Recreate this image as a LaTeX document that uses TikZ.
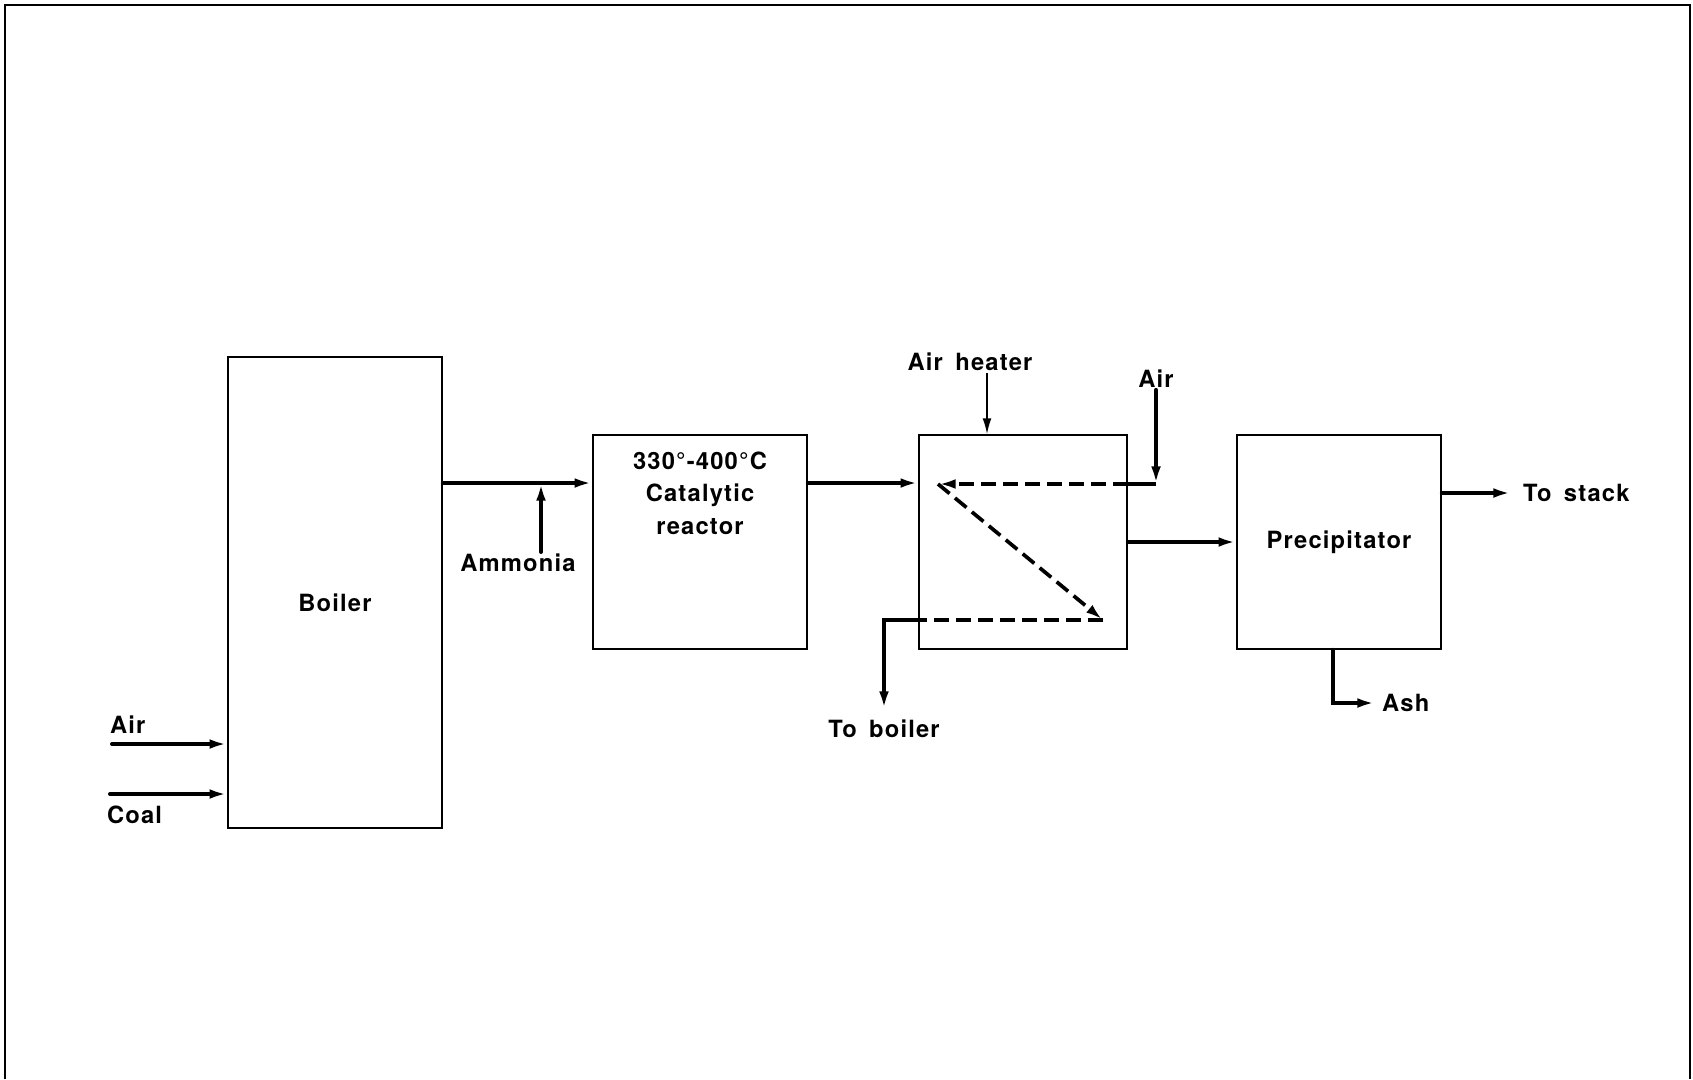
\documentclass[tikz,border=0pt]{standalone}
\usepackage{fontspec}
\setmainfont{TeX Gyre Heros}
\newfontfamily\lblfont[LetterSpace=5, WordSpace=1.6]{TeX Gyre Heros}
\usetikzlibrary{arrows.meta, positioning, calc}

\begin{document}
\begin{tikzpicture}[
  x=0.02cm, y=-0.02cm,
  >={Latex[length=10pt, width=5.5pt]},
  unit/.style 2 args={draw, line width=1pt, inner sep=0pt,
    minimum width=#1, minimum height=#2},
  lbl/.style={font=\lblfont\fontsize{13.5}{18.4}\selectfont\bfseries,
    inner sep=1pt, align=center},
  flow/.style={->, line width=2.3pt, line cap=round},
  pipe/.style={line width=2.3pt},
  thinflow/.style={->, >={Latex[length=9pt, width=5pt]}, line width=0.8pt},
  coil/.style={line width=2.1pt, dash pattern=on 8.5pt off 4pt},
]

% Page frame
\useasboundingbox (0,0) rectangle (1693,1079);
\draw[line width=1.1pt] (5,1079) -- (5,5) -- (1690,5) -- (1690,1079);

% === Units ===
\node[unit={42.8mm}{94.2mm}] (boiler) at (335,592.5) {};
\node[lbl] (boilertxt) at ([yshift=-2mm]boiler.center) {Boiler};

\node[unit={42.8mm}{42.8mm}] (reactor) at (700,542) {};
\node[lbl, inner sep=0pt, below=3.5mm of reactor.north] (reactortxt)
  {330°-400°C\\Catalytic\\reactor};

\node[unit={41.6mm}{42.8mm}] (heater) at (1023,542) {};

\node[unit={40.8mm}{42.8mm}, lbl] (precip) at (1339,542) {Precipitator};

% === Labels ===
\node[lbl, anchor=west] (airlbl) at (108,725) {Air};
\node[lbl, anchor=west] (coallbl) at (105,815) {Coal};
\node[lbl] (ammonia) at (518,563) {Ammonia};
\node[lbl] (heaterlbl) at (970,362) {Air heater};
\node[lbl] (airtop) at (1156,379) {Air};
\node[lbl] (toboiler) at (884,729) {To boiler};
\node[lbl, anchor=west] (stack) at (1521,493) {To stack};
\node[lbl, anchor=west] (ash) at (1380,703) {Ash};

% === Gas path ===
\coordinate (airsrc) at (112,744);
\coordinate (coalsrc) at (110,794);
\draw[flow] (airsrc) -- (airsrc -| boiler.west);
\draw[flow] (coalsrc) -- (coalsrc -| boiler.west);

\coordinate (rin) at ([yshift=11.8mm]reactor.west);
\draw[flow] (boiler.east |- rin) -- (rin);
\draw[flow] ([xshift=4.6mm]ammonia.north) -- ([xshift=4.6mm]ammonia.north |- rin);
\draw[flow] (reactor.east |- rin) -- (heater.west |- rin);

\draw[flow] (heater.east) -- (precip.west);
\draw[flow] (precip.east |- stack.west) -- ([xshift=-2mm]stack.west);
\draw[flow] ([xshift=-1.2mm]precip.south) |- ([xshift=-1mm]ash.west);

% === Air heater coil ===
\draw[thinflow] ([xshift=3.4mm]heaterlbl.south) -- ([xshift=3.4mm]heaterlbl.south |- heater.north);

\coordinate (hin) at (1156,484);
\coordinate (c1) at (938,484);
\coordinate (c2) at (1103,620);
\draw[flow] (airtop.south) -- (hin);
\draw[pipe] (hin) -- (hin -| heater.east);
\draw[coil, ->] (hin -| heater.east) -- (c1);
\draw[coil, ->] (c1) -- (c2);
\draw[coil] (c2) -- (c2 -| heater.west);
\draw[flow] (c2 -| heater.west) -| ([yshift=1.8mm]toboiler.north);

\end{tikzpicture}
\end{document}
